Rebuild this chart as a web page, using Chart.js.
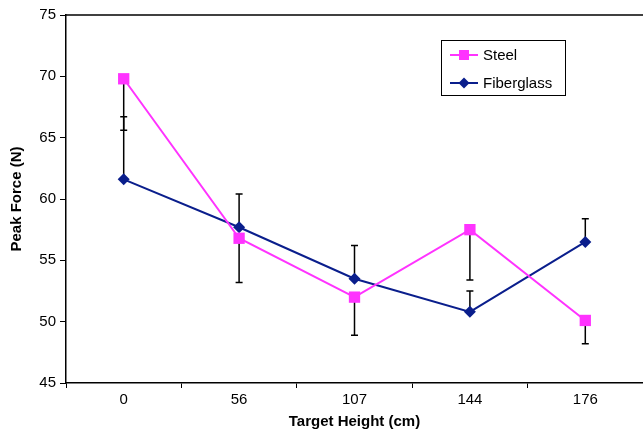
<!DOCTYPE html>
<html lang="en">
<head>
<meta charset="UTF-8">
<title>Peak Force vs Target Height</title>
<script src="https://cdn.jsdelivr.net/npm/chart.js"></script>
<style>
  body { margin: 0; padding: 0; background: #fff; }
  #wrap { width: 643px; height: 431px; }
</style>
</head>
<body>
<div id="wrap"><canvas id="chart" width="643" height="431"></canvas></div>
<script>
// data
const heights = ["0", "56", "107", "144", "176"];
const steel = [69.8, 56.8, 52.0, 57.5, 50.1];
const steelErr = [4.2, 3.6, 3.1, 4.1, 1.9];      // drawn below only
const fiberglass = [61.6, 57.7, 53.5, 50.8, 56.5];
const fiberglassErr = [5.1, 2.7, 2.7, 1.7, 1.9]; // drawn above only

const FONT = "'Liberation Sans', Arial, sans-serif";

// one-sided error bars, like the Excel original
const errorBars = {
  id: "errorBars",
  beforeDatasetsDraw(chart) {
    const { ctx, scales } = chart;
    const sets = [
      { vals: steel, err: steelErr, dir: -1 },
      { vals: fiberglass, err: fiberglassErr, dir: 1 }
    ];
    ctx.save();
    ctx.strokeStyle = "#000";
    ctx.lineWidth = 1.5;
    sets.forEach((s) => {
      s.vals.forEach((v, i) => {
        const x = scales.x.getPixelForValue(i);
        const y0 = scales.y.getPixelForValue(v);
        const y1 = scales.y.getPixelForValue(v + s.dir * s.err[i]);
        ctx.beginPath();
        ctx.moveTo(x, y0);
        ctx.lineTo(x, y1);
        ctx.moveTo(x - 3.5, y1);
        ctx.lineTo(x + 3.5, y1);
        ctx.stroke();
      });
    });
    ctx.restore();
  }
};

// top border of the plot area + boxed legend inside it
const frameAndLegend = {
  id: "frameAndLegend",
  afterDraw(chart) {
    const { ctx, chartArea } = chart;
    ctx.save();
    ctx.strokeStyle = "#000";
    ctx.lineWidth = 1.5;
    ctx.beginPath();
    ctx.moveTo(chartArea.left, chartArea.top);
    ctx.lineTo(chart.width, chartArea.top);
    ctx.stroke();

    // legend box
    const bx = 441, by = 40, bw = 124, bh = 55;
    ctx.fillStyle = "#fff";
    ctx.fillRect(bx, by, bw, bh);
    ctx.lineWidth = 1;
    ctx.strokeRect(bx + 0.5, by + 0.5, bw, bh);

    ctx.font = "15px " + FONT;
    ctx.textBaseline = "middle";
    chart.data.datasets.forEach((ds, i) => {
      const y = by + 15 + i * 28;
      ctx.strokeStyle = ds.borderColor;
      ctx.lineWidth = 2;
      ctx.beginPath();
      ctx.moveTo(bx + 9, y);
      ctx.lineTo(bx + 37, y);
      ctx.stroke();
      ctx.fillStyle = ds.pointBackgroundColor;
      if (ds.pointStyle === "rect") {
        ctx.fillRect(bx + 23 - 5, y - 5, 10, 10);
      } else {
        ctx.beginPath();
        ctx.moveTo(bx + 23, y - 5.5);
        ctx.lineTo(bx + 28.5, y);
        ctx.lineTo(bx + 23, y + 5.5);
        ctx.lineTo(bx + 17.5, y);
        ctx.closePath();
        ctx.fill();
      }
      ctx.fillStyle = "#000";
      ctx.fillText(ds.label, bx + 42, y + 1);
    });
    ctx.restore();
  }
};

new Chart(document.getElementById("chart"), {
  type: "line",
  data: {
    labels: heights,
    datasets: [
      {
        label: "Steel",
        data: steel,
        borderColor: "#FF33FF",
        backgroundColor: "#FF33FF",
        pointBackgroundColor: "#FF33FF",
        pointBorderColor: "#FF33FF",
        pointStyle: "rect",
        pointRadius: 8,
        pointBorderWidth: 0,
        borderWidth: 2,
        tension: 0
      },
      {
        label: "Fiberglass",
        data: fiberglass,
        borderColor: "#0A1E8C",
        backgroundColor: "#0A1E8C",
        pointBackgroundColor: "#0A1E8C",
        pointBorderColor: "#0A1E8C",
        pointStyle: "rectRot",
        pointRadius: 6,
        pointBorderWidth: 0,
        borderWidth: 2,
        tension: 0
      }
    ]
  },
  options: {
    responsive: false,
    animation: false,
    layout: { autoPadding: false, padding: { top: 15, right: 0, left: 0, bottom: 0 } },
    plugins: {
      legend: { display: false },
      tooltip: { enabled: false }
    },
    scales: {
      x: {
        type: "category",
        offset: true,
        grid: {
          offset: true,
          drawOnChartArea: false,
          drawTicks: true,
          tickLength: 5,
          color: "#000",
          lineWidth: 1
        },
        border: { display: true, color: "#000", width: 1.5 },
        ticks: {
          color: "#000",
          font: { family: FONT, size: 15 },
          padding: 3,
          maxRotation: 0
        },
        title: {
          display: true,
          text: "Target Height (cm)",
          color: "#000",
          font: { family: FONT, size: 15, weight: "bold" },
          padding: { top: 0, bottom: 0 }
        },
        afterFit(scale) {
          scale.height = 48;
          scale.paddingLeft = 0;
          scale.paddingRight = 0;
        }
      },
      y: {
        min: 45,
        max: 75,
        ticks: {
          stepSize: 5,
          color: "#000",
          font: { family: FONT, size: 15 },
          padding: 4
        },
        grid: {
          drawOnChartArea: false,
          drawTicks: true,
          tickLength: 6,
          color: "#000",
          lineWidth: 1
        },
        border: { display: true, color: "#000", width: 1.5 },
        title: {
          display: true,
          text: "Peak Force (N)",
          color: "#000",
          font: { family: FONT, size: 15, weight: "bold" },
          padding: { top: 8, bottom: 4 }
        },
        afterFit(scale) { scale.width = 66; }
      }
    }
  },
  plugins: [errorBars, frameAndLegend]
});
</script>
</body>
</html>
